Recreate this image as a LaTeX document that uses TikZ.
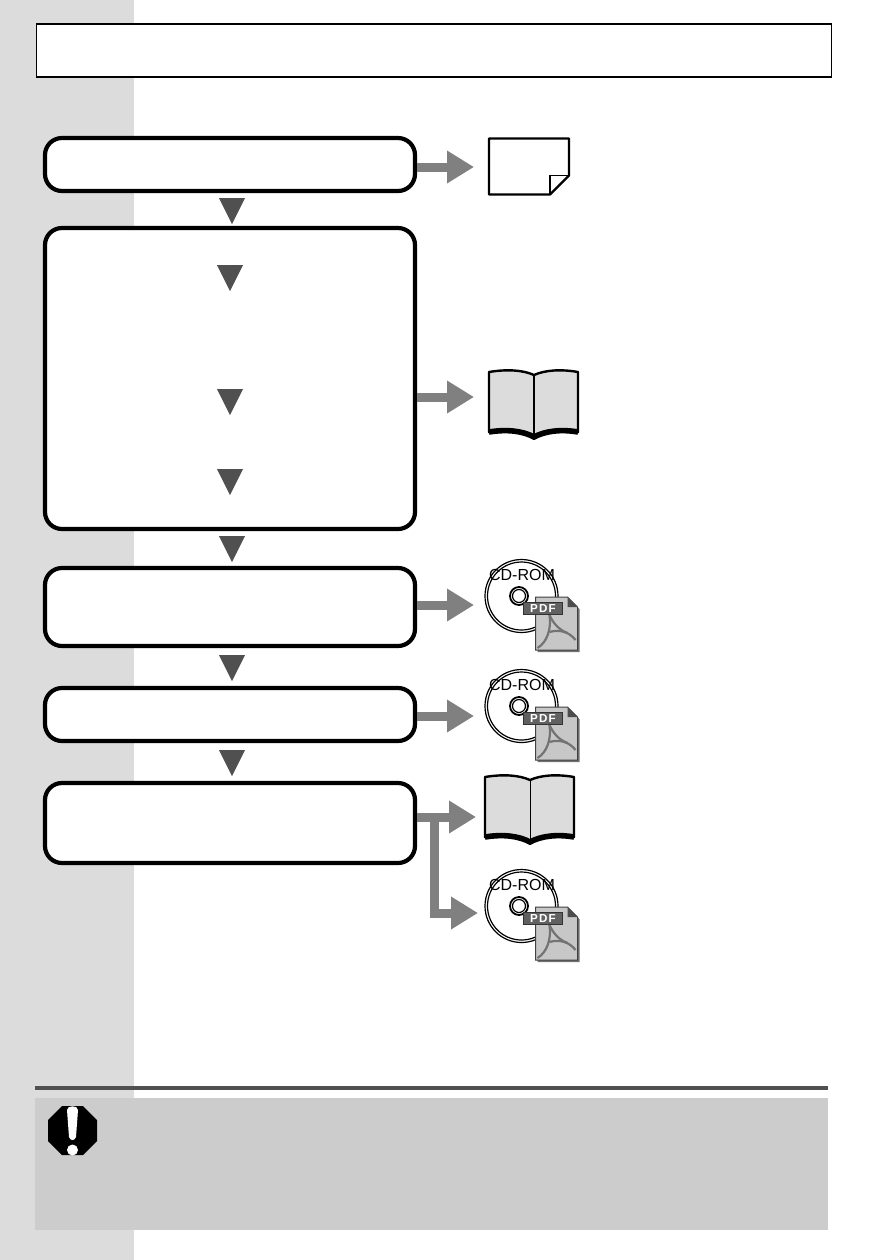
\documentclass[tikz,border=0pt]{standalone}
\usepackage{fontspec}
\usepackage{xcolor}
\usetikzlibrary{arrows.meta}
\newfontfamily\cdfont{Liberation Sans}
\newfontfamily\pdffont[LetterSpace=10]{Liberation Sans Bold}
\definecolor{stripgray}{HTML}{DCDCDC}
\definecolor{notegray}{HTML}{CCCCCC}
\definecolor{rulegray}{HTML}{505050}
\definecolor{feedgray}{HTML}{808080}
\tikzset{
  flowbox/.style={draw=black,fill=white,line width=2.1pt,rounded corners=8.5pt,minimum width=185pt,inner sep=0pt},
  feedline/.style={draw=feedgray,line width=4.5pt,-{Triangle[length=13.5pt,width=15.5pt]}},
  stepmark/.style={fill=rulegray},
  pics/noteicon/.style={code={
    \draw[line width=1.1pt,line join=round,fill=white] (0,0) -- (80,0) -- (80,37) -- (61,56) -- (0,56) -- cycle;
    \draw[line width=0.6pt] (61,56) -- (61,37) -- (80,37);
  }},
  pics/bookicon/.style={code={
    \draw[line width=1.2pt,line join=round,fill=stripgray] (0,2) .. controls (18,-1) and (34,0) .. (45,5)
      .. controls (56,0) and (72,-1) .. (89,2) -- (89,62) .. controls (72,59) and (56,61) .. (45,67)
      .. controls (34,61) and (18,59) .. (0,62) -- cycle;
    \draw[line width=2.8pt] (0,62) .. controls (18,59) and (34,61) .. (45,67)
      .. controls (56,61) and (72,59) .. (89,62);
    \draw[line width=#1] (45,5) -- (45,66);
  }},
  pics/cdpdf/.style={code={
    \draw[line width=0.6pt,fill=white] (0,0) circle (36.5);
    \draw[line width=0.6pt] (0,0) circle (34);
    \draw[line width=0.9pt] (-2.5,0) circle (9);
    \draw[line width=0.6pt] (-2.5,0) circle (6.5);
    \node[font=\cdfont\fontsize{8pt}{8pt}\selectfont,inner sep=0pt] (cdlabel) at (0.5,-21) {CD-ROM};
    % sheet with its shadow
    \fill[black!55] (16,3) -- (48,3) -- (58,13) -- (58,56) -- (16,56) -- cycle;
    \draw[black!75,line width=0.5pt,fill=black!22] (14,1) -- (46,1) -- (56,11) -- (56,54) -- (14,54) -- cycle;
    \fill[black!70] (46,1) -- (46,11) -- (56,11) -- cycle;
    \draw[black!55,line width=1.1pt] (28,19) .. controls (30,32) and (26,46) .. (16,52);
    \draw[black!55,line width=1.1pt] (28,36) .. controls (38,33) and (48,36) .. (54,44);
    \draw[black!55,line width=1.1pt] (28,19) .. controls (32,28) and (38,34) .. (46,37);
    \node[fill=black!62,draw=black!80,line width=0.5pt,text=white,font=\pdffont\fontsize{5.8pt}{6pt}\selectfont,
      inner sep=0pt,minimum width=19.5pt,minimum height=6pt] (pdflabel) at (21.5,12) {PDF};
  }}
}
\begin{document}
\begin{tikzpicture}[x=0.5pt,y=-0.5pt]
  \useasboundingbox (0,0) rectangle (894,1260);
  \fill[white] (0,0) rectangle (894,1260);
  \fill[stripgray] (0,0) rectangle (134,1260);
  \draw[line width=0.65pt,fill=white] (36.5,24) rectangle (831.5,77);
  % the five steps
  \node[flowbox,minimum height=26.5pt] (stepA) at (230,164.5) {};
  \node[flowbox,minimum height=150.5pt] (stepB) at (230,378.5) {};
  \node[flowbox,minimum height=39pt] (stepC) at (230,607) {};
  \node[flowbox,minimum height=26.5pt] (stepD) at (230,714.5) {};
  \node[flowbox,minimum height=40pt] (stepE) at (230,823) {};
  % triangles between and inside the steps
  \foreach \mx/\my in {232/198,232/536,232/655,232/750,230/265,230/389,230/469}
    \fill[stepmark] (\mx-13,\my) -- (\mx+13,\my) -- (\mx,\my+26) -- cycle;
  % icons
  \pic at (489,138.5) {noteicon};
  \pic at (489,370) {bookicon=1pt};
  \pic at (485,775) {bookicon=0.5pt};
  \pic at (521.5,596) {cdpdf};
  \pic at (521.5,706) {cdpdf};
  \pic at (521.5,906) {cdpdf};
  % feeds
  \coordinate (tipA) at (474,167);
  \coordinate (tipB) at (474,397);
  \coordinate (tipC) at (474,605);
  \coordinate (tipD) at (474,716);
  \coordinate (tipE) at (476,817);
  \coordinate (tipF) at (478,913);
  \coordinate (forkE) at (434,817);
  \draw[feedline] (stepA.east |- tipA) -- (tipA);
  \draw[feedline] (stepB.east |- tipB) -- (tipB);
  \draw[feedline] (stepC.east |- tipC) -- (tipC);
  \draw[feedline] (stepD.east |- tipD) -- (tipD);
  \draw[feedline] (stepE.east |- tipE) -- (tipE);
  \draw[feedline] (forkE) |- (tipF);
  % caution panel
  \fill[rulegray] (35,1086) rectangle (828,1089.5);
  \fill[notegray] (35,1098) rectangle (828,1230);
  \fill[black] (62,1106) -- (83,1106) -- (97,1120) -- (97,1141) -- (83,1155) -- (62,1155) -- (48,1141) -- (48,1120) -- cycle;
  \fill[white] (67,1110) .. controls (67,1105) and (78,1105) .. (78,1110) -- (76,1137) .. controls (75,1141) and (70,1141) .. (69,1137) -- cycle;
  \fill[white] (72.5,1150) circle (5.5);
\end{tikzpicture}
\end{document}
